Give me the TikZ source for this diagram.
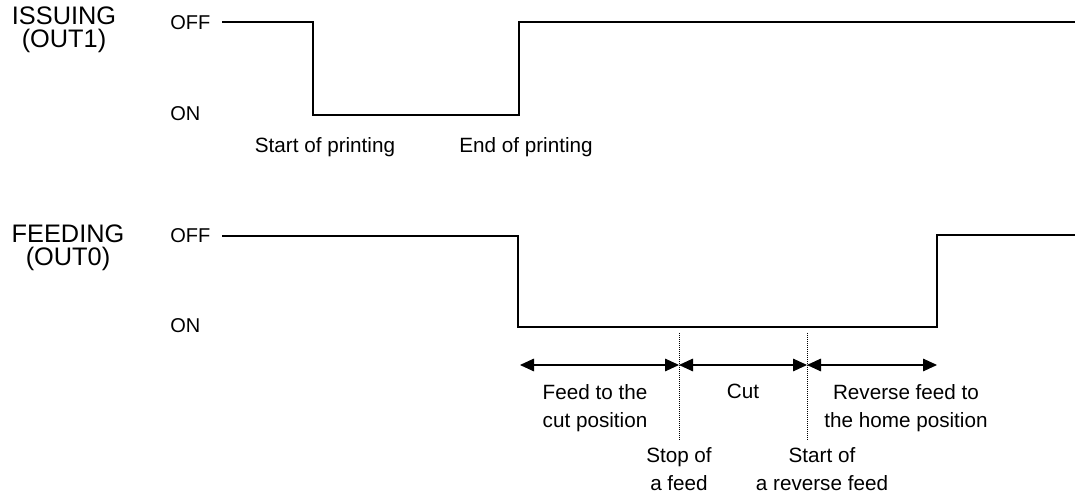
\documentclass[tikz,border=0pt]{standalone}
\usepackage{fontspec}
\setmainfont{Liberation Sans}
\usetikzlibrary{arrows.meta}
\begin{document}
\begin{tikzpicture}[x=0.75pt,y=-0.75pt,
    sig/.style={font=\fontsize{19}{17.5}\selectfont,align=center,anchor=base},
    lvl/.style={font=\fontsize{15}{18}\selectfont,anchor=base west,inner sep=0pt},
    lbl/.style={font=\fontsize{15.5}{21.5}\selectfont,align=center,anchor=base},
    wave/.style={line width=1.4pt},
    span/.style={line width=0.8pt,{Triangle[length=10.5pt,width=9.5pt]}-{Triangle[length=10.5pt,width=9.5pt]}}]
    \useasboundingbox (0,0) rectangle (1079,498);
    % signal names and levels (base = last line)
    \node[sig] (issuing) at (64,48) {ISSUING\\(OUT1)};
    \node[sig] (feeding) at (68,266) {FEEDING\\(OUT0)};
    \node[lvl] (off1) at (170,29.5) {OFF};
    \node[lvl] (on1) at (170,120.5) {ON};
    \node[lvl] (off2) at (170,243) {OFF};
    \node[lvl] (on2) at (170,333) {ON};
    % OUT1 waveform
    \coordinate (i0) at (222,22);
    \coordinate (i1) at (313,22);
    \coordinate (i2) at (313,115);
    \coordinate (i3) at (519,115);
    \coordinate (i4) at (519,22);
    \coordinate (i5) at (1075,22);
    \draw[wave] (i0) -- (i1) -- (i2) -- (i3) -- (i4) -- (i5);
    \node[lbl] (startprint) at (325,152.5) {Start of printing};
    \node[lbl] (endprint) at (526,152.5) {End of printing};
    % OUT0 waveform
    \coordinate (f0) at (222,236);
    \coordinate (f1) at (518,236);
    \coordinate (f2) at (518,327);
    \coordinate (f3) at (937,327);
    \coordinate (f4) at (937,235);
    \coordinate (f5) at (1075,235);
    \draw[wave] (f0) -- (f1) -- (f2) -- (f3) -- (f4) -- (f5);
    % time spans
    \coordinate (a0) at (520,365);
    \coordinate (a1) at (679,365);
    \coordinate (a2) at (807,365);
    \coordinate (a3) at (937,365);
    \draw[span] (a0) -- (a1);
    \draw[span] (a1) -- (a2);
    \draw[span] (a2) -- (a3);
    \coordinate (s1) at (679,333);
    \coordinate (e1) at (679,440);
    \coordinate (s2) at (807,333);
    \coordinate (e2) at (807,440);
    \draw[densely dotted,line width=0.5pt] (s1) -- (e1);
    \draw[densely dotted,line width=0.5pt] (s2) -- (e2);
    \node[lbl] (feedcut) at (595,428) {Feed to the\\cut position};
    \node[lbl] (cut) at (743,399) {Cut};
    \node[lbl] (revfeed) at (906,428) {Reverse feed to\\the home position};
    \node[lbl] (stopfeed) at (679,491) {Stop of\\a feed};
    \node[lbl] (startrev) at (822,491) {Start of\\a reverse feed};
\end{tikzpicture}
\end{document}
